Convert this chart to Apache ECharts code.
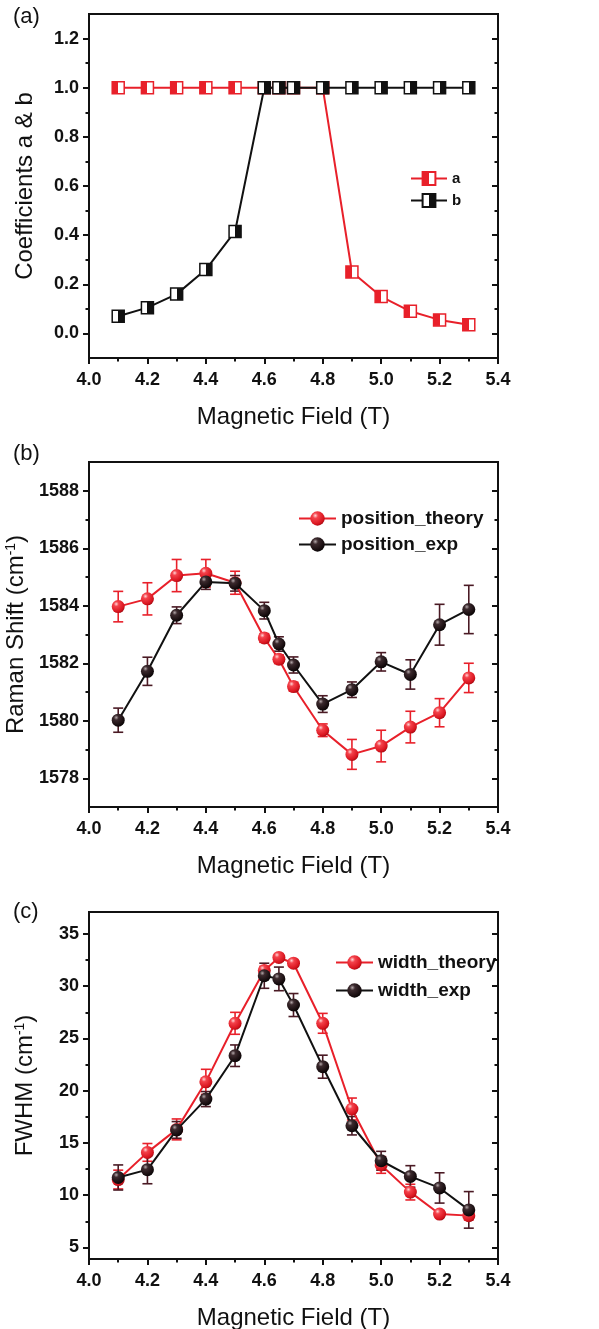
<!DOCTYPE html>
<html>
<head>
<meta charset="utf-8">
<script src="https://cdn.jsdelivr.net/npm/echarts@6/dist/echarts.min.js"></script>
<style>
  html, body { margin: 0; padding: 0; background: #fff; }
  #chart { width: 599px; height: 1329px; }
</style>
</head>
<body>
<div id="chart"></div>
<script>
// magnetic field values (T), shared by all three panels
var field = [4.1, 4.2, 4.3, 4.4, 4.5, 4.6, 4.65, 4.7, 4.8, 4.9, 5.0, 5.1, 5.2, 5.3];

// (a) coefficients
var coefA = [1, 1, 1, 1, 1, 1, 1, 1, 1, 0.25, 0.15, 0.09, 0.055, 0.035];
var coefB = [0.07, 0.105, 0.16, 0.26, 0.415, 1, 1, 1, 1, 1, 1, 1, 1, 1];

// (b) Raman shift
var posTheory    = [1583.97, 1584.24, 1585.05, 1585.13, 1584.8, 1582.88, 1582.14, 1581.19, 1579.67, 1578.83, 1579.12, 1579.78, 1580.28, 1581.49];
var posTheoryErr = [0.53, 0.56, 0.56, 0.48, 0.4, 0.15, 0.15, 0.15, 0.22, 0.52, 0.55, 0.55, 0.49, 0.51];
var posExp       = [1580.02, 1581.72, 1583.67, 1584.83, 1584.78, 1583.83, 1582.67, 1581.94, 1580.58, 1581.08, 1582.05, 1581.61, 1583.34, 1583.87];
var posExpErr    = [0.42, 0.49, 0.29, 0.26, 0.27, 0.29, 0.25, 0.28, 0.29, 0.27, 0.32, 0.51, 0.71, 0.84];

// (c) FWHM
var widthTheory    = [11.5, 14.1, 16.3, 20.85, 26.45, 31.5, 32.75, 32.2, 26.45, 18.25, 12.9, 10.3, 8.2, 8.05];
var widthTheoryErr = [0.9, 0.85, 1.0, 1.2, 1.05, 0.4, 0.3, 0.3, 0.95, 1.05, 0.8, 0.75, 0.3, 0.4];
var widthExp       = [11.7, 12.45, 16.25, 19.2, 23.35, 31.0, 30.7, 28.2, 22.3, 16.65, 13.3, 11.8, 10.7, 8.6];
var widthExpErr    = [1.2, 1.35, 0.8, 0.72, 1.03, 1.2, 1.13, 1.1, 1.1, 0.88, 0.9, 1.03, 1.45, 1.75];

// tick values
var ticksA = [0, 0.2, 0.4, 0.6, 0.8, 1.0, 1.2];
var minorA = [0.1, 0.3, 0.5, 0.7, 0.9, 1.1];
var ticksB = [1578, 1580, 1582, 1584, 1586, 1588];
var minorB = [1579, 1581, 1583, 1585, 1587];
var ticksC = [5, 10, 15, 20, 25, 30, 35];
var minorC = [7.5, 12.5, 17.5, 22.5, 27.5, 32.5];

var FONT = '"Liberation Sans", Arial, sans-serif';
var INK = '#111';
var RED = '#e8202a';

var pairs = function (xs, ys) {
    return xs.map(function (x, i) { return [x, ys[i]]; });
};
var triples = function (xs, ys, es) {
    return xs.map(function (x, i) { return [x, ys[i], es[i]]; });
};

// half filled square for panel (a)
var halfFill = function (color, leftFilled) {
    var a = leftFilled ? color : '#fff';
    var b = leftFilled ? '#fff' : color;
    return new echarts.graphic.LinearGradient(0, 0, 1, 0, [
        { offset: 0, color: a }, { offset: 0.5, color: a },
        { offset: 0.5, color: b }, { offset: 1, color: b }
    ]);
};

// shaded balls for (b) and (c)
var redBall = new echarts.graphic.RadialGradient(0.35, 0.3, 0.75, [
    { offset: 0, color: '#ffd6d6' },
    { offset: 0.25, color: '#f4424b' },
    { offset: 0.8, color: '#d8141e' },
    { offset: 1, color: '#a00a12' }
]);
var darkBall = new echarts.graphic.RadialGradient(0.35, 0.3, 0.75, [
    { offset: 0, color: '#b4a8aa' },
    { offset: 0.25, color: '#3c2a2e' },
    { offset: 0.8, color: '#160c0e' },
    { offset: 1, color: '#050303' }
]);

var errRender = function (color) {
    return function (params, api) {
        var x = api.value(0), y = api.value(1), e = api.value(2);
        var hi = api.coord([x, y + e]);
        var lo = api.coord([x, y - e]);
        var w = 5;
        var st = { stroke: color, lineWidth: 1.6 };
        return {
            type: 'group',
            children: [
                { type: 'line', shape: { x1: hi[0], y1: hi[1], x2: lo[0], y2: lo[1] }, style: st },
                { type: 'line', shape: { x1: hi[0] - w, y1: hi[1], x2: hi[0] + w, y2: hi[1] }, style: st },
                { type: 'line', shape: { x1: lo[0] - w, y1: lo[1], x2: lo[0] + w, y2: lo[1] }, style: st }
            ]
        };
    };
};

var labelStyle = { fontFamily: FONT, fontSize: 18, fontWeight: 'bold', color: INK };
var nameStyle = {
    fontFamily: FONT, fontSize: 24, color: INK,
    rich: { s: { fontFamily: FONT, fontSize: 14, color: INK, verticalAlign: 'top', lineHeight: 14 } }
};

var xAxisFor = function (gi) {
    return {
        type: 'value', gridIndex: gi, min: 4.0, max: 5.4, interval: 0.2, position: 'bottom',
        name: 'Magnetic Field (T)', nameLocation: 'middle', nameGap: 47,
        nameTextStyle: { fontFamily: FONT, fontSize: 24, color: INK },
        axisLine: { show: false, onZero: false },
        axisTick: { show: true, length: 6, lineStyle: { color: INK, width: 2 } },
        minorTick: { show: true, splitNumber: 2, length: 3.5, lineStyle: { color: INK, width: 2 } },
        axisLabel: { margin: 13, textStyle: labelStyle, formatter: function (v) { return v.toFixed(1); } },
        splitLine: { show: false },
        minorSplitLine: { show: false }
    };
};

var yAxesFor = function (gi, min, max, ticks, minor, name, fmt) {
    var base = function (pos, vals, len, inside) {
        return {
            type: 'value', gridIndex: gi, min: min, max: max, position: pos,
            axisLine: { show: false, onZero: false },
            axisTick: { show: true, inside: inside, length: len, customValues: vals, lineStyle: { color: INK, width: 2 } },
            axisLabel: { show: false, customValues: vals },
            splitLine: { show: false }
        };
    };
    var main = base('left', ticks, 6, false);
    main.axisLabel = { show: true, customValues: ticks, margin: 10, textStyle: labelStyle, formatter: fmt };
    main.name = name;
    main.nameLocation = 'middle';
    main.nameGap = 52;
    main.nameRotate = 90;
    main.nameTextStyle = nameStyle;
    return [main, base('left', minor, 3.5, false), base('right', ticks, 6, true), base('right', minor, 3.5, true)];
};

var myChart = echarts.init(document.getElementById('chart'));

var gridBox = {
    show: true, borderColor: INK, borderWidth: 2, backgroundColor: 'transparent',
    containLabel: false, outerBoundsMode: 'none'
};

var option = {
    animation: false,
    backgroundColor: '#fff',
    grid: [
        Object.assign({ left: 89, top: 14, width: 409, height: 344 }, gridBox),
        Object.assign({ left: 89, top: 462, width: 409, height: 345 }, gridBox),
        Object.assign({ left: 89, top: 912, width: 409, height: 347 }, gridBox)
    ],
    graphic: [
        { type: 'text', left: 13, top: 6, style: { text: '(a)', font: '22px ' + FONT, fill: INK } },
        { type: 'text', left: 13, top: 443, style: { text: '(b)', font: '22px ' + FONT, fill: INK } },
        { type: 'text', left: 13, top: 901, style: { text: '(c)', font: '22px ' + FONT, fill: INK } }
    ],
    legend: [
        {
            left: 405, top: 166, orient: 'vertical', itemWidth: 36, itemHeight: 16, itemGap: 7,
            selectedMode: false, data: ['a', 'b'],
            textStyle: { fontFamily: FONT, fontSize: 15, fontWeight: 'bold', color: INK }
        },
        {
            left: 293, top: 504, orient: 'vertical', itemWidth: 37, itemHeight: 18, itemGap: 7,
            selectedMode: false, data: ['position_theory', 'position_exp'],
            textStyle: { fontFamily: FONT, fontSize: 19, fontWeight: 'bold', color: INK }
        },
        {
            left: 330, top: 948, orient: 'vertical', itemWidth: 37, itemHeight: 18, itemGap: 9,
            selectedMode: false, data: ['width_theory', 'width_exp'],
            textStyle: { fontFamily: FONT, fontSize: 19, fontWeight: 'bold', color: INK }
        }
    ],
    xAxis: [xAxisFor(0), xAxisFor(1), xAxisFor(2)],
    yAxis: [].concat(
        yAxesFor(0, -0.1, 1.3, ticksA, minorA, 'Coefficients a & b', function (v) { return v.toFixed(1); }),
        yAxesFor(1, 1577, 1589, ticksB, minorB, 'Raman Shift (cm{s|-1})', function (v) { return String(v); }),
        yAxesFor(2, 3.9, 37.1, ticksC, minorC, 'FWHM (cm{s|-1})', function (v) { return String(v); })
    ),
    series: [
        // (a)
        {
            name: 'a', type: 'line', xAxisIndex: 0, yAxisIndex: 0, data: pairs(field, coefA),
            symbol: 'rect', symbolSize: 12, z: 3,
            lineStyle: { color: RED, width: 2 },
            itemStyle: { color: halfFill(RED, true), borderColor: RED, borderWidth: 1.5 }
        },
        {
            name: 'b', type: 'line', xAxisIndex: 0, yAxisIndex: 0, data: pairs(field, coefB),
            symbol: 'rect', symbolSize: 12, z: 4,
            lineStyle: { color: INK, width: 2 },
            itemStyle: { color: halfFill(INK, false), borderColor: INK, borderWidth: 1.5 }
        },
        // (b)
        {
            type: 'custom', xAxisIndex: 1, yAxisIndex: 4, z: 2,
            renderItem: errRender(RED), encode: { x: 0, y: 1 },
            data: triples(field, posTheory, posTheoryErr)
        },
        {
            type: 'custom', xAxisIndex: 1, yAxisIndex: 4, z: 2,
            renderItem: errRender('#4a1a24'), encode: { x: 0, y: 1 },
            data: triples(field, posExp, posExpErr)
        },
        {
            name: 'position_theory', type: 'line', xAxisIndex: 1, yAxisIndex: 4, data: pairs(field, posTheory),
            symbol: 'circle', symbolSize: 13, z: 3,
            lineStyle: { color: RED, width: 2 },
            itemStyle: { color: redBall, borderWidth: 0 }
        },
        {
            name: 'position_exp', type: 'line', xAxisIndex: 1, yAxisIndex: 4, data: pairs(field, posExp),
            symbol: 'circle', symbolSize: 13, z: 4,
            lineStyle: { color: INK, width: 2 },
            itemStyle: { color: darkBall, borderWidth: 0 }
        },
        // (c)
        {
            type: 'custom', xAxisIndex: 2, yAxisIndex: 8, z: 2,
            renderItem: errRender(RED), encode: { x: 0, y: 1 },
            data: triples(field, widthTheory, widthTheoryErr)
        },
        {
            type: 'custom', xAxisIndex: 2, yAxisIndex: 8, z: 2,
            renderItem: errRender('#4a1a24'), encode: { x: 0, y: 1 },
            data: triples(field, widthExp, widthExpErr)
        },
        {
            name: 'width_theory', type: 'line', xAxisIndex: 2, yAxisIndex: 8, data: pairs(field, widthTheory),
            symbol: 'circle', symbolSize: 13, z: 3,
            lineStyle: { color: RED, width: 2 },
            itemStyle: { color: redBall, borderWidth: 0 }
        },
        {
            name: 'width_exp', type: 'line', xAxisIndex: 2, yAxisIndex: 8, data: pairs(field, widthExp),
            symbol: 'circle', symbolSize: 13, z: 4,
            lineStyle: { color: INK, width: 2 },
            itemStyle: { color: darkBall, borderWidth: 0 }
        }
    ]
};

window.addEventListener("resize", function () {
    myChart.resize();
});
myChart.setOption(option);
</script>
</body>
</html>
